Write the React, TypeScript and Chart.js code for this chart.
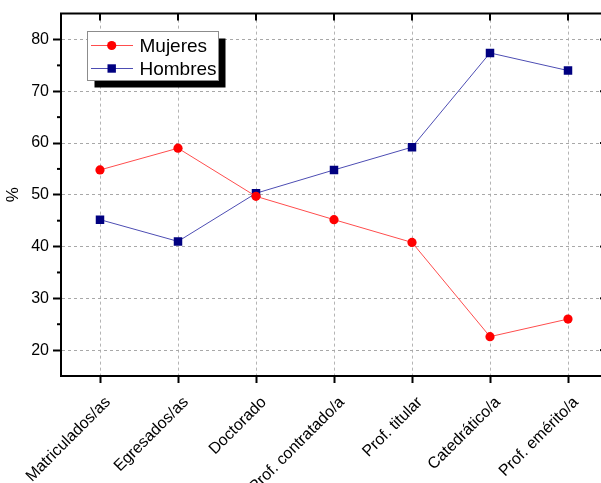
import React, { useEffect, useRef } from 'react';
import { Chart, registerables } from 'chart.js';

Chart.register(...registerables);

const categories = [
  'Matriculados/as',
  'Egresados/as',
  'Doctorado',
  'Prof. contratado/a',
  'Prof. titular',
  'Catedrático/a',
  'Prof. emérito/a',
];
const mujeres = [54.8, 59.0, 49.7, 45.2, 40.8, 22.6, 26.0];
const hombres = [45.2, 41.0, 50.3, 54.8, 59.2, 77.4, 74.0];
const yMajorTicks = [20, 30, 40, 50, 60, 70, 80];
const yMinorTicks = [25, 35, 45, 55, 65, 75];
const seriesNames = ['Mujeres', 'Hombres'];

const FONT = "'Liberation Sans', Arial, sans-serif";
const RED = '#ff0000';
const RED_LINE = '#ff4d4d';
const NAVY = '#000080';
const NAVY_LINE = '#4d4db3';

const framePlugin = {
  id: 'frame',
  afterDraw(chart: any) {
    const { ctx, chartArea } = chart;
    const { left, right, top, bottom } = chartArea;
    const xs = chart.scales.x;
    const ys = chart.scales.y;
    ctx.save();
    ctx.strokeStyle = '#000';
    ctx.lineWidth = 2;
    ctx.setLineDash([]);
    ctx.beginPath();
    ctx.moveTo(left - 1, top);
    ctx.lineTo(right, top);
    ctx.lineTo(right, bottom);
    ctx.stroke();
    categories.forEach((_, i) => {
      const x = xs.getPixelForValue(i);
      ctx.beginPath();
      ctx.moveTo(x, top);
      ctx.lineTo(x, top + 7);
      ctx.stroke();
    });
    yMajorTicks.forEach((v) => {
      const y = ys.getPixelForValue(v);
      ctx.beginPath();
      ctx.moveTo(right, y);
      ctx.lineTo(right - 7, y);
      ctx.stroke();
    });
    yMinorTicks.forEach((v) => {
      const y = ys.getPixelForValue(v);
      ctx.beginPath();
      ctx.moveTo(left, y);
      ctx.lineTo(left - 4, y);
      ctx.stroke();
      ctx.beginPath();
      ctx.moveTo(right, y);
      ctx.lineTo(right - 4, y);
      ctx.stroke();
    });

    // legend
    const bx = 87.5, by = 31.5, bw = 131, bh = 49;
    ctx.fillStyle = '#000';
    ctx.fillRect(bx + 7, by + 7, bw, bh);
    ctx.fillStyle = '#fff';
    ctx.fillRect(bx, by, bw, bh);
    ctx.lineWidth = 1;
    ctx.strokeStyle = '#8c8c8c';
    ctx.strokeRect(bx, by, bw, bh);

    const rows = [
      { y: 45.5, line: RED_LINE, fill: RED, shape: 'circle', name: seriesNames[0] },
      { y: 68.5, line: NAVY_LINE, fill: NAVY, shape: 'rect', name: seriesNames[1] },
    ];
    rows.forEach((r) => {
      ctx.strokeStyle = r.line;
      ctx.lineWidth = 1;
      ctx.beginPath();
      ctx.moveTo(91, r.y);
      ctx.lineTo(133, r.y);
      ctx.stroke();
      ctx.fillStyle = r.fill;
      if (r.shape === 'circle') {
        ctx.beginPath();
        ctx.arc(111.7, r.y, 4.6, 0, Math.PI * 2);
        ctx.fill();
      } else {
        ctx.fillRect(111.7 - 4.2, r.y - 4.2, 8.4, 8.4);
      }
      ctx.fillStyle = '#000';
      ctx.font = `19px ${FONT}`;
      ctx.textBaseline = 'middle';
      ctx.textAlign = 'left';
      ctx.fillText(r.name, 139.5, r.y + 1);
    });
    ctx.restore();
  },
};

export default function App() {
  const ref = useRef<HTMLCanvasElement>(null);

  useEffect(() => {
    if (!ref.current) return;
    const chart = new Chart(ref.current, {
      type: 'line',
      data: {
        labels: categories,
        datasets: [
          {
            label: seriesNames[0],
            data: mujeres,
            borderColor: RED_LINE,
            backgroundColor: RED,
            borderWidth: 1,
            pointStyle: 'circle',
            pointRadius: 4.6,
            pointBorderWidth: 0,
            pointBackgroundColor: RED,
            pointBorderColor: RED,
            tension: 0,
          },
          {
            label: seriesNames[1],
            data: hombres,
            borderColor: NAVY_LINE,
            backgroundColor: NAVY,
            borderWidth: 1,
            pointStyle: 'rect',
            pointRadius: 6,
            pointBorderWidth: 0,
            pointBackgroundColor: NAVY,
            pointBorderColor: NAVY,
            tension: 0,
          },
        ],
      },
      options: {
        responsive: false,
        animation: false,
        events: [],
        layout: { padding: { top: 13, right: 13, left: 0, bottom: 0 } },
        plugins: {
          legend: { display: false },
          tooltip: { enabled: false },
          title: { display: false },
        },
        scales: {
          x: {
            type: 'category',
            offset: true,
            grid: {
              display: true,
              color: '#b4b4b4',
              lineWidth: 1,
              tickColor: '#000',
              tickLength: 7,
              tickWidth: 2,
              offset: false,
            },
            border: { display: true, color: '#000', width: 2, dash: [3, 3] },
            ticks: {
              color: '#000',
              font: { family: FONT, size: 16 },
              minRotation: 45,
              maxRotation: 45,
              autoSkip: false,
              padding: 10,
              labelOffset: 8,
            },
            afterFit: (scale: any) => {
              scale.height = 107;
            },
          },
          y: {
            min: 15,
            max: 85,
            afterBuildTicks: (scale: any) => {
              scale.ticks = yMajorTicks.map((v) => ({ value: v }));
            },
            grid: {
              display: true,
              color: '#a8a8a8',
              lineWidth: 1,
              tickColor: '#000',
              tickLength: 8,
              tickWidth: 2,
            },
            border: { display: true, color: '#000', width: 2, dash: [3, 3] },
            ticks: {
              color: '#000',
              font: { family: FONT, size: 16 },
              padding: 4,
            },
            title: {
              display: true,
              text: '%',
              color: '#000',
              font: { family: FONT, size: 17 },
              padding: { top: 3, bottom: 0 },
            },
            afterFit: (scale: any) => {
              scale.width = 61;
            },
          },
        },
      },
      plugins: [framePlugin],
    });
    return () => chart.destroy();
  }, []);

  return (
    <div
      style={{
        position: 'fixed',
        left: 0,
        top: 0,
        width: 601,
        height: 483,
        overflow: 'hidden',
        background: '#fff',
      }}
    >
      <canvas ref={ref} width={620} height={483} style={{ display: 'block', width: 620, height: 483 }} />
    </div>
  );
}
